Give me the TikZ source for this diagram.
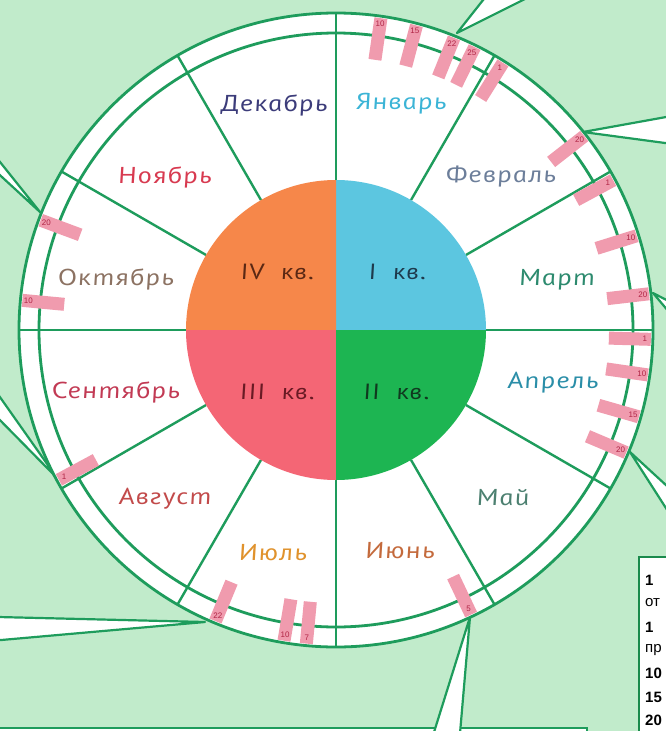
\documentclass[tikz,border=0pt]{standalone}
\usepackage{fontspec}
\setmainfont{Liberation Sans}
\newfontfamily\mf{PT Sans}[ItalicFeatures={FakeSlant=-0.2, FakeStretch=1.25, LetterSpace=5}]
\definecolor{bg}{HTML}{C1EBCB}
\definecolor{gl}{HTML}{1E9C5C}
\definecolor{gd}{HTML}{1A8A4C}
\definecolor{qI}{HTML}{5CC6E0}
\definecolor{qII}{HTML}{1DB552}
\definecolor{qIII}{HTML}{F46675}
\definecolor{qIV}{HTML}{F6874A}
\definecolor{pk}{HTML}{F09BAE}
\definecolor{pkt}{HTML}{B02545}
\definecolor{cJan}{HTML}{3BB4D6}
\definecolor{cFeb}{HTML}{6C7E9A}
\definecolor{cMar}{HTML}{2C8A6E}
\definecolor{cApr}{HTML}{2A8EA8}
\definecolor{cMay}{HTML}{4C8070}
\definecolor{cJun}{HTML}{C46A3C}
\definecolor{cJul}{HTML}{E0922C}
\definecolor{cAug}{HTML}{C24A4A}
\definecolor{cSep}{HTML}{C23A54}
\definecolor{cOct}{HTML}{8C7262}
\definecolor{cNov}{HTML}{D83A50}
\definecolor{cDec}{HTML}{3C3C7A}
\definecolor{tIV}{RGB}{90,40,20}
\definecolor{tI}{RGB}{30,58,76}
\definecolor{tIII}{RGB}{105,26,36}
\definecolor{tII}{RGB}{16,57,31}
\tikzset{
  mon/.style={font=\mf\itshape\fontsize{23}{25}\selectfont, inner sep=0pt},
  qlab/.style={font=\mf\itshape\fontsize{22}{24}\selectfont, inner sep=0pt},
  spoke/.style={draw=gl, line width=2.4pt},
  ring/.style={draw=gl, line width=2.8pt},
  wedgebox/.style={draw=gl, fill=white, line width=2.2pt, line join=round},
  mk/.style={fill=pk, minimum width=42pt, minimum height=13pt, inner sep=0pt},
  mkt/.style={text=pkt, font=\fontsize{8}{8}\selectfont, inner sep=0pt},
  leg/.style={font=\fontsize{15}{16}\selectfont, anchor=west, inner sep=0pt},
  legb/.style={leg, font=\bfseries\fontsize{15}{16}\selectfont}
}
\begin{document}
\begin{tikzpicture}[x=1pt,y=-1pt]
\useasboundingbox (0,0) rectangle (666,731);
\clip (0,0) rectangle (666,731);
\fill[bg] (-5,-5) rectangle (671,736);

% bottom box and legend box
\draw[draw=gl, fill=white, line width=2.4pt] (-10,728) rectangle (587,750);
\draw[draw=gd, fill=white, line width=2.6pt] (639,557) rectangle (690,750);
\node[legb] (l1) at (645,580) {1};
\node[leg]  (l2) at (645,603) {от};
\node[legb] (l3) at (645,627) {1};
\node[leg]  (l4) at (645,650) {пр};
\node[legb] (l5) at (645,673) {10};
\node[legb] (l6) at (645,697) {15};
\node[legb] (l7) at (645,720) {20};

% callout wedges
\coordinate (wa1) at (457,33);  \coordinate (wb1) at (491,-10);   \coordinate (wc1) at (543,-10);
\coordinate (wa2) at (583,132); \coordinate (wb2) at (680,114.5); \coordinate (wc2) at (680,145);
\coordinate (wa3) at (653,293); \coordinate (wb3) at (680,307);   \coordinate (wc3) at (680,325);
\coordinate (wa4) at (630,452); \coordinate (wb4) at (680,498);   \coordinate (wc4) at (680,530);
\coordinate (wa5) at (470,617); \coordinate (wb5) at (430,745);   \coordinate (wc5) at (459,745);
\coordinate (wa6) at (205,622); \coordinate (wb6) at (-10,616.8); \coordinate (wc6) at (-10,641);
\coordinate (wa7) at (57,478);  \coordinate (wb7) at (-10,383);   \coordinate (wc7) at (-10,410);
\coordinate (wa8) at (40,212);  \coordinate (wb8) at (-10,149.5); \coordinate (wc8) at (-10,166);
\foreach \i in {1,...,8} {\draw[wedgebox] (wb\i) -- (wa\i) -- (wc\i) -- cycle;}

\begin{scope}[shift={(336,330)}, y=1pt]
  \fill[white] (0,0) circle (317);
  \draw[ring] (0,0) circle (317);
  \draw[ring] (0,0) circle (297);
  \foreach \a in {0,30,...,330} {\draw[spoke] (\a:150) -- (\a:317);}
  \fill[qI] (0,0) -- (0:150) arc (0:90:150) -- cycle;
  \fill[qIV] (0,0) -- (90:150) arc (90:180:150) -- cycle;
  \fill[qIII] (0,0) -- (180:150) arc (180:270:150) -- cycle;
  \fill[qII] (0,0) -- (270:150) arc (270:360:150) -- cycle;
  \foreach \a/\t/\n in {81.8/10/j10, 75.2/15/j15, 68/22/j22, 63.9/25/j25,
      58/1/f1, 38/20/f20, 28.4/1/m1, 17.4/10/m10, 6.6/20/m20,
      -1.7/1/a1, -8.2/10/a10, -16/15/a15, -22.9/20/a20,
      -64.6/5/u5, -95.4/7/l7, -99.5/10/l10, -112.5/22/l22,
      -151.6/1/s1, 174.6/10/o10, 159.6/20/o20} {
    \node[mk, rotate=\a] (mk\n) at (\a:294) {};
    \node[mkt] (mt\n) at (\a:309) {\t};
  }
\end{scope}

% quarter labels
\node[qlab, text=tIV] (qiv) at (278,272) {IV\ \ кв.};
\node[qlab, text=tI] (qi) at (398,272) {I\ \ кв.};
\node[qlab, text=tIII] (qiii) at (278,392) {III\ \ кв.};
\node[qlab, text=tII] (qii) at (397,392) {II\ \ кв.};

% month labels
\node[mon, text=cJan] (jan) at (402,104) {Январь};
\node[mon, text=cFeb] (feb) at (502,177) {Февраль};
\node[mon, text=cMar] (mar) at (558,280) {Март};
\node[mon, text=cApr] (apr) at (554,383) {Апрель};
\node[mon, text=cMay] (may) at (504,498) {Май};
\node[mon, text=cJun] (jun) at (401,551) {Июнь};
\node[mon, text=cJul] (jul) at (274,553) {Июль};
\node[mon, text=cAug] (aug) at (166,499) {Август};
\node[mon, text=cSep] (sep) at (117,392) {Сентябрь};
\node[mon, text=cOct] (oct) at (117,279) {Октябрь};
\node[mon, text=cNov] (nov) at (166,177) {Ноябрь};
\node[mon, text=cDec] (dec) at (275,105) {Декабрь};
\end{tikzpicture}
\end{document}
